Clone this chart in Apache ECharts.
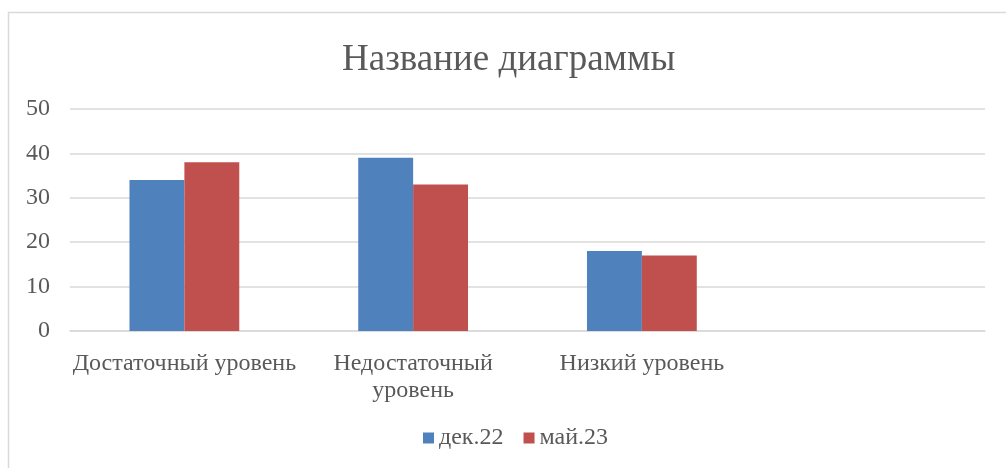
<!DOCTYPE html>
<html lang="ru">
<head>
    <meta charset="utf-8">
    <title>Название диаграммы</title>
    <script src="https://cdn.jsdelivr.net/npm/echarts@6/dist/echarts.min.js"></script>
    <style>
        * { margin: 0; padding: 0; }
        body { background: #fff; }
        #main { width: 1006px; height: 468px; }
    </style>
</head>
<body>
<div id="main"></div>
<script>
    // категории и значения
    const categories = ['Достаточный уровень', 'Недостаточный уровень', 'Низкий уровень', ''];
    // подписи оси X (с переносом строки, как в исходнике)
    const categoryLabels = ['Достаточный уровень', 'Недостаточный\nуровень', 'Низкий уровень', ''];
    const seriesNames = ['дек.22', 'май.23'];
    const dec22 = [34, 39, 18, null];
    const may23 = [38, 33, 17, null];

    const textColor = '#595959';
    const fontFamily = 'Liberation Serif';

    var myChart = echarts.init(document.getElementById('main'), null, { renderer: 'canvas' });

    const option = {
        backgroundColor: '#fff',
        animation: false,
        graphic: [
            {
                type: 'rect',
                shape: { x: 8.5, y: 12.5, width: 1200, height: 600 },
                style: { fill: 'none', stroke: '#d9d9d9', lineWidth: 1.5 },
                silent: true
            }
        ],
        title: {
            text: 'Название диаграммы',
            left: 342,
            top: 42,
            padding: 0,
            textStyle: { color: textColor, fontFamily: fontFamily, fontSize: 37, fontWeight: 'normal' }
        },
        legend: {
            data: seriesNames,
            bottom: 13,
            left: 418,
            itemWidth: 11,
            itemHeight: 11,
            itemGap: 20,
            icon: 'rect',
            textStyle: { color: textColor, fontFamily: fontFamily, fontSize: 24 }
        },
        grid: { left: 70, right: 21, top: 109, bottom: 137 },
        xAxis: {
            type: 'category',
            data: categories,
            axisLine: { lineStyle: { color: '#d9d9d9', width: 1.5 } },
            axisTick: { show: false },
            axisLabel: {
                color: textColor,
                fontFamily: fontFamily,
                fontSize: 24,
                margin: 19,
                lineHeight: 27,
                interval: 0,
                formatter: (value, index) => categoryLabels[index]
            }
        },
        yAxis: {
            type: 'value',
            min: 0,
            max: 50,
            interval: 10,
            axisLine: { show: false },
            axisTick: { show: false },
            splitLine: { lineStyle: { color: '#d9d9d9', width: 1.5 } },
            axisLabel: { color: textColor, fontFamily: fontFamily, fontSize: 24, margin: 20 }
        },
        series: [
            {
                name: seriesNames[0],
                type: 'bar',
                data: dec22,
                barGap: 0,
                barCategoryGap: '52%',
                itemStyle: { color: '#4f81bd' }
            },
            {
                name: seriesNames[1],
                type: 'bar',
                data: may23,
                barGap: 0,
                barCategoryGap: '52%',
                itemStyle: { color: '#c0504d' }
            }
        ]
    };

    myChart.setOption(option);
</script>
</body>
</html>
